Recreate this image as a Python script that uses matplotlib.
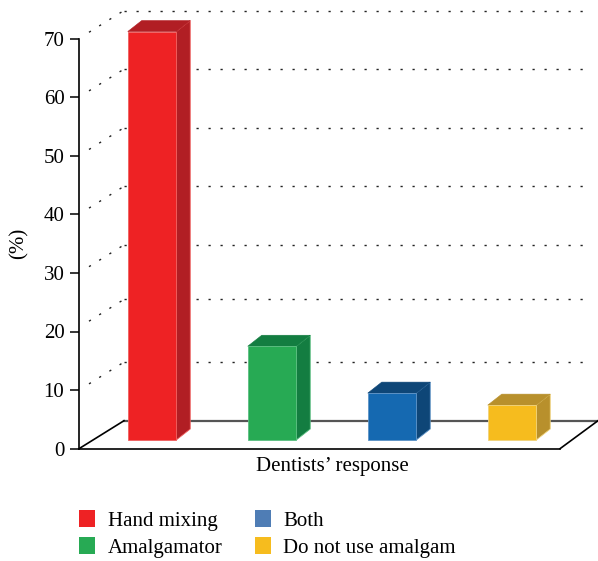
import matplotlib
matplotlib.use("Agg")
import matplotlib.pyplot as plt
from matplotlib.patches import Polygon, Patch

categorias = ["Hand mixing", "Amalgamator", "Both", "Do not use amalgam"]
valores = [69.7, 16.0, 8.0, 5.95]
marcas_y = [0, 10, 20, 30, 40, 50, 60, 70]
rejilla_y = [10, 20.7, 30, 40, 50, 60, 70]  # la de 20 esta algo corrida en el original

color_frente = ["#EE2224", "#27AA54", "#1569B1", "#F6BC1E"]
color_lado = ["#B11E24", "#137D41", "#0E4677", "#B8902C"]
color_arriba = ["#B11E24", "#137D41", "#0E4677", "#B8902C"]
color_borde = ["#F0605F", "#5CBF82", "#5C92C6", "#F0D27A"]
color_leyenda = ["#EE2224", "#27AA54", "#4F7DB5", "#F6BC1E"]

plt.rcParams["font.family"] = ["Liberation Serif", "DejaVu Serif"]

W, H = 598, 561
fig = plt.figure(figsize=(W / 100, H / 100), dpi=100)
# ejes: x de 79 a 560 px, y=0 en 448.7 px, y=70 en 38.5 px
ax = fig.add_axes([79 / W, 1 - 448.7 / H, (560 - 79) / W, (448.7 - 38.5) / H])
px_x = 120.0  # px por categoria
px_y = (448.7 - 38.5) / 70
ax.set_xlim(-73 / px_x, (560 - 152) / px_x)
ax.set_ylim(0, 70)
ax.patch.set_alpha(0)

# profundidad del piso y de las barras, en unidades de datos
fondo_x, fondo_y = 45 / px_x, 28 / px_y
prof_x, prof_y = 14 / px_x, 11 / px_y
ancho = 48.5 / px_x
base = 8.7 / px_y

x0, x1 = ax.get_xlim()

# rejilla punteada
puntos = (0, (1.6, 7.04))
for v in rejilla_y:
    ax.plot([x0 + fondo_x, 590 / px_x - 152 / px_x], [v + fondo_y, v + fondo_y], color="#222222",
            lw=1.0, ls=puntos, clip_on=False, zorder=1)
    ax.plot([x0 + 10 / px_x, x0 + fondo_x], [v + fondo_y * 10 / 45, v + fondo_y], color="#222222",
            lw=1.0, ls=puntos, clip_on=False, zorder=1)

# piso
ax.plot([x0 + fondo_x, x1 + fondo_x - 7 / px_x], [fondo_y, fondo_y], color="#555555", lw=1.6,
        clip_on=False, zorder=2)
ax.plot([x0, x0 + fondo_x], [0, fondo_y], color="black", lw=1.2, clip_on=False, zorder=2)
ax.plot([x1, x1 + 38 / px_x], [0, fondo_y], color="black", lw=1.2, clip_on=False, zorder=2)

# barras
for i, v in enumerate(valores):
    izq, der = i - ancho / 2, i + ancho / 2
    abajo, arriba = base, base + v
    ax.add_patch(Polygon([(izq, abajo), (der, abajo), (der, arriba), (izq, arriba)],
                         fc=color_frente[i], ec=color_borde[i], lw=0.6, clip_on=False, zorder=4))
    ax.add_patch(Polygon([(der, abajo), (der + prof_x, abajo + prof_y),
                          (der + prof_x, arriba + prof_y), (der, arriba)],
                         fc=color_lado[i], ec=color_borde[i], lw=0.6, clip_on=False, zorder=3))
    ax.add_patch(Polygon([(izq, arriba), (der, arriba), (der + prof_x, arriba + prof_y),
                          (izq + prof_x, arriba + prof_y)],
                         fc=color_arriba[i], ec=color_arriba[i], lw=0.4, clip_on=False, zorder=3))

for lado in ["top", "right"]:
    ax.spines[lado].set_visible(False)
ax.spines["left"].set_linewidth(1.2)
ax.spines["bottom"].set_linewidth(1.2)
ax.set_xticks([])
ax.set_yticks(marcas_y)
ax.tick_params(axis="y", length=6.5, width=1.1, pad=4, labelsize=15)

fig.text(19 / W, 1 - 243 / H, "(%)", rotation=90, ha="center", va="center", fontsize=15)
fig.text(332 / W, 1 - 466 / H, "Dentists’ response", ha="center", va="center", fontsize=15)

manejadores = [Patch(fc=c, ec="none") for c in color_leyenda]
fig.legend(manejadores, categorias, ncols=2, frameon=False, fontsize=15,
           loc="upper left", bbox_to_anchor=(79 / W, 1 - 510 / H), borderaxespad=0, borderpad=0,
           handlelength=0.77, handleheight=0.85, handletextpad=0.6,
           columnspacing=1.55, labelspacing=0.32)

fig.savefig("out.png", dpi=100)
